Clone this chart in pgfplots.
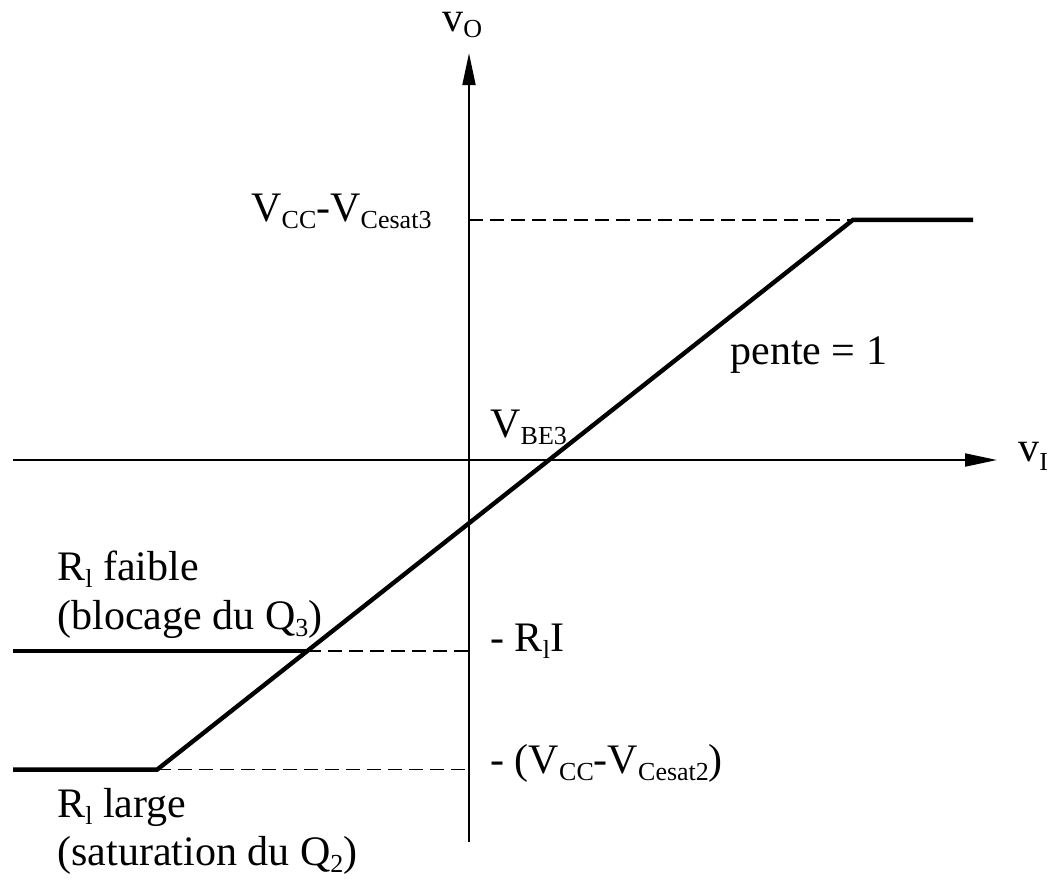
\documentclass[border=0pt]{standalone}
\usepackage{fontspec}
\setmainfont{Liberation Serif}
\usepackage{pgfplots}
\pgfplotsset{compat=1.18}
\usetikzlibrary{arrows.meta}
\newcommand{\sub}[2][3.5pt]{\raisebox{-#1}{\fontsize{13}{13}\selectfont #2}}
\newcommand{\fs}{\fontsize{21}{25}\selectfont}
\begin{document}
\begin{tikzpicture}
\begin{axis}[
  width=525.5pt, height=440pt, scale only axis,
  xmin=-4.69, xmax=5.82, ymin=-5.316, ymax=5.823,
  hide axis, clip=false,
]
% invisible frame fixing the bounding box
\addplot[draw=none, forget plot] coordinates {(-4.69,-5.316) (5.82,5.823)};
% axes
\addplot[line width=1pt, -{Triangle[length=16pt,width=6.5pt]}] coordinates {(-4.56,0) (5.28,0)};
\addplot[line width=1pt, -{Triangle[length=16pt,width=6.5pt]}] coordinates {(0,-4.84) (0,5.15)};
% dashed guides
\addplot[line width=0.75pt, dash pattern=on 7pt off 3.5pt] coordinates {(0,3.04) (3.84,3.04)};
\addplot[line width=0.75pt, dash pattern=on 7pt off 3.5pt] coordinates {(-1.62,-2.42) (0,-2.42)};
\addplot[line width=0.75pt, dash pattern=on 7pt off 3.5pt] coordinates {(-3.12,-3.92) (0,-3.92)};
% characteristic
\addplot[line width=2.2pt, line join=miter] coordinates {(-4.56,-3.92) (-3.12,-3.92) (3.84,3.04) (5.04,3.04)};
\addplot[line width=2.2pt] coordinates {(-4.56,-2.42) (-1.62,-2.42)};
% labels
\node[anchor=base west, inner sep=0pt] at (axis cs:-0.27,5.43) {\fs v\sub[3pt]{O}};
\node[anchor=base west, inner sep=0pt] at (axis cs:5.49,-0.025) {\fs v\sub[4.5pt]{I}};
\node[anchor=base west, inner sep=0pt] at (axis cs:-2.18,3.013) {\fs V\sub{CC}-V\sub{Cesat3}};
\node[anchor=base west, inner sep=0pt] at (axis cs:2.61,1.203) {\fs pente = 1};
\node[anchor=base west, inner sep=0pt] at (axis cs:0.21,0.291) {\fs V\sub{BE3}};
\node[anchor=base west, inner sep=0pt] at (axis cs:0.21,-2.43) {\fs - R\sub{l}I};
\node[anchor=base west, inner sep=0pt] at (axis cs:0.21,-3.962) {\fs - (V\sub{CC}-V\sub{Cesat2})};
\node[anchor=base west, inner sep=0pt] at (axis cs:-4.12,-1.53) {\fs R\sub{l} faible};
\node[anchor=base west, inner sep=0pt] at (axis cs:-4.12,-2.15) {\fs (blocage du Q\sub{3})};
\node[anchor=base west, inner sep=0pt] at (axis cs:-4.12,-4.53) {\fs R\sub{l} large};
\node[anchor=base west, inner sep=0pt] at (axis cs:-4.12,-5.139) {\fs (saturation du Q\sub{2})};
\end{axis}
\end{tikzpicture}
\end{document}
